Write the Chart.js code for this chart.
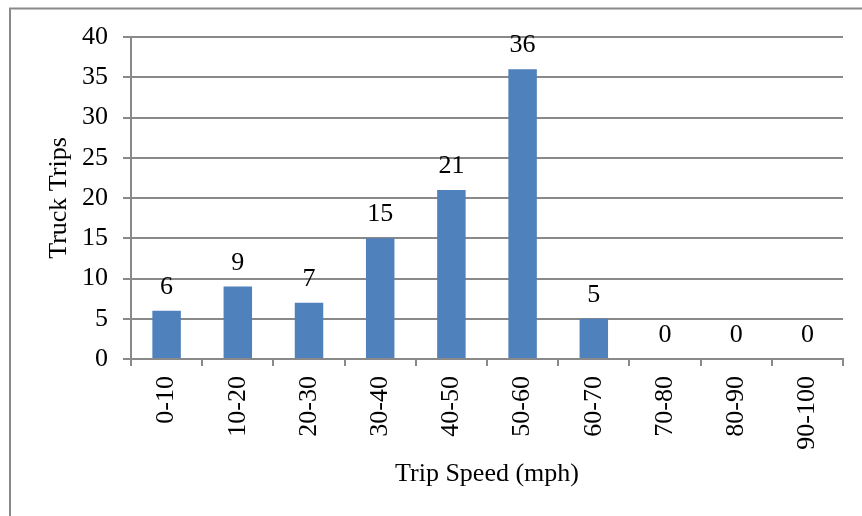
<!DOCTYPE html>
<html>
<head>
<meta charset="utf-8">
<script src="https://cdn.jsdelivr.net/npm/chart.js@4/dist/chart.umd.min.js"></script>
<style>
  html, body { margin: 0; padding: 0; background: #ffffff; }
  #wrap { width: 862px; height: 516px; position: relative; }
</style>
</head>
<body>
<div id="wrap"><canvas id="c" width="862" height="516"></canvas></div>
<script>
// Truck trips by speed band
const speedBands = ['0-10', '10-20', '20-30', '30-40', '40-50', '50-60', '60-70', '70-80', '80-90', '90-100'];
const truckTrips = [6, 9, 7, 15, 21, 36, 5, 0, 0, 0];
const yTicks = [0, 5, 10, 15, 20, 25, 30, 35, 40];

const FONT = '"Liberation Serif", "Times New Roman", serif';
const GRID = '#898989';
const BAR = '#4F81BD';

// Outer frame around the chart
const framePlugin = {
  id: 'frame',
  beforeDraw(chart) {
    const ctx = chart.ctx;
    ctx.save();
    ctx.fillStyle = '#ffffff';
    ctx.fillRect(0, 0, chart.width, chart.height);
    ctx.strokeStyle = GRID;
    ctx.lineWidth = 2;
    ctx.beginPath();
    ctx.moveTo(10, chart.height + 5);
    ctx.lineTo(10, 8.5);
    ctx.lineTo(chart.width + 5, 8.5);
    ctx.stroke();
    ctx.restore();
  }
};

// Value printed above each bar
const valueLabels = {
  id: 'valueLabels',
  afterDatasetsDraw(chart) {
    const ctx = chart.ctx;
    const meta = chart.getDatasetMeta(0);
    const data = chart.data.datasets[0].data;
    ctx.save();
    ctx.font = '26px ' + FONT;
    ctx.fillStyle = '#000000';
    ctx.textAlign = 'center';
    ctx.textBaseline = 'alphabetic';
    meta.data.forEach((bar, i) => {
      ctx.fillText(String(data[i]), bar.x, bar.y - 17);
    });
    ctx.restore();
  }
};

new Chart(document.getElementById('c'), {
  type: 'bar',
  data: {
    labels: speedBands,
    datasets: [{
      data: truckTrips,
      backgroundColor: BAR,
      borderWidth: 0,
      categoryPercentage: 1.0,
      barPercentage: 0.4
    }]
  },
  options: {
    responsive: false,
    animation: false,
    events: [],
    layout: { padding: { left: 10, right: 19, top: 37, bottom: 0 } },
    plugins: {
      legend: { display: false },
      tooltip: { enabled: false }
    },
    scales: {
      x: {
        offset: true,
        grid: {
          display: true,
          drawOnChartArea: false,
          drawTicks: true,
          tickLength: 7,
          color: GRID,
          lineWidth: 2,
          offset: true
        },
        border: { display: true, color: GRID, width: 2 },
        ticks: {
          color: '#000000',
          font: { family: FONT, size: 26 },
          minRotation: 90,
          maxRotation: 90,
          padding: 10,
          autoSkip: false
        },
        title: {
          display: true,
          text: 'Trip Speed (mph)',
          color: '#000000',
          font: { family: FONT, size: 26 },
          padding: { top: 0, bottom: 26 }
        },
        afterFit(scale) { scale.height = 157; }
      },
      y: {
        min: 0,
        max: 40,
        afterBuildTicks(scale) { scale.ticks = yTicks.map(v => ({ value: v })); },
        grid: {
          color: GRID,
          lineWidth: 2,
          drawTicks: true,
          tickLength: 8
        },
        border: { display: true, color: GRID, width: 2 },
        ticks: {
          color: '#000000',
          font: { family: FONT, size: 26 },
          padding: 15
        },
        title: {
          display: true,
          text: 'Truck Trips',
          color: '#000000',
          font: { family: FONT, size: 26 },
          padding: { top: 34, bottom: 0 }
        },
        afterFit(scale) { scale.width = 121; }
      }
    }
  },
  plugins: [framePlugin, valueLabels]
});
</script>
</body>
</html>
